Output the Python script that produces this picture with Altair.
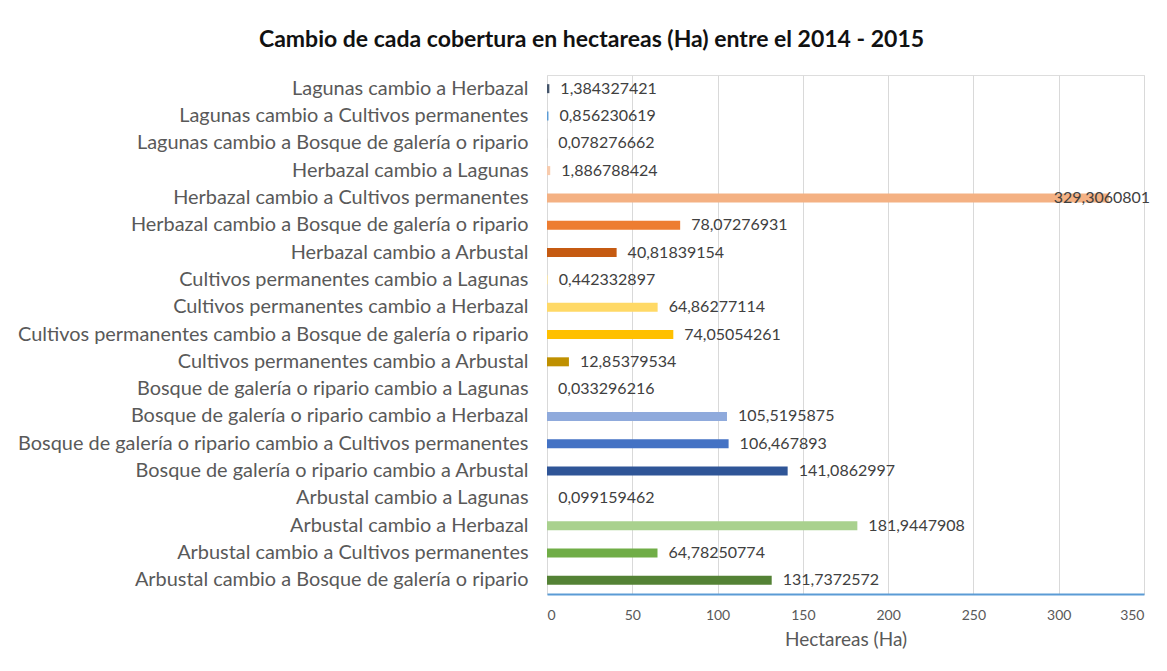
import altair as alt
import pandas as pd

categories = [
    "Lagunas cambio a Herbazal",
    "Lagunas cambio a Cultivos permanentes",
    "Lagunas cambio a Bosque de galería o ripario",
    "Herbazal cambio a Lagunas",
    "Herbazal cambio a Cultivos permanentes",
    "Herbazal cambio a Bosque de galería o ripario",
    "Herbazal cambio a Arbustal",
    "Cultivos permanentes cambio a Lagunas",
    "Cultivos permanentes cambio a Herbazal",
    "Cultivos permanentes cambio a Bosque de galería o ripario",
    "Cultivos permanentes cambio a Arbustal",
    "Bosque de galería o ripario cambio a Lagunas",
    "Bosque de galería o ripario cambio a Herbazal",
    "Bosque de galería o ripario cambio a Cultivos permanentes",
    "Bosque de galería o ripario cambio a Arbustal",
    "Arbustal cambio a Lagunas",
    "Arbustal cambio a Herbazal",
    "Arbustal cambio a Cultivos permanentes",
    "Arbustal cambio a Bosque de galería o ripario",
]
values = [
    1.384327421, 0.856230619, 0.078276662, 1.886788424, 329.3060801,
    78.07276931, 40.81839154, 0.442332897, 64.86277114, 74.05054261,
    12.85379534, 0.033296216, 105.5195875, 106.467893, 141.0862997,
    0.099159462, 181.9447908, 64.78250774, 131.7372572,
]
colors = [
    "#44546A", "#5B9BD5", "#A5A5A5", "#F8CBAD", "#F4B183",
    "#ED7D31", "#C55A11", "#FFE699", "#FFD966", "#FFC000",
    "#BF9000", "#B4C7E7", "#8FAADC", "#4472C4", "#2F5597",
    "#C5E0B4", "#A9D18E", "#70AD47", "#548235",
]

df = pd.DataFrame({
    "cat": categories,
    "val": values,
    "label": [str(v).replace(".", ",") for v in values],
})

FONT = "Lato"
GRAY = "#595959"

y_enc = alt.Y("cat:N", sort=None, title=None,
              scale=alt.Scale(paddingInner=0.0, paddingOuter=0.0),
              axis=alt.Axis(ticks=False, domain=False, grid=False,
                            labelFont=FONT, labelFontSize=19.9, labelColor=GRAY,
                            labelPadding=19, labelLimit=600))
x_enc = alt.X("val:Q", title="Hectareas (Ha)",
              scale=alt.Scale(domain=[0, 350], nice=False),
              axis=alt.Axis(values=[0, 50, 100, 150, 200, 250, 300, 350],
                            grid=True, gridColor="#D9D9D9", gridWidth=1,
                            ticks=False, domain=True, domainColor="#5B9BD5",
                            domainWidth=2, labelFont=FONT, labelFontSize=14,
                            labelColor=GRAY, labelPadding=14,
                            titleFont=FONT, titleFontSize=19,
                            titleFontWeight="normal", titleColor=GRAY,
                            titlePadding=8))

bars = alt.Chart(df).mark_bar(size=9).encode(
    y=y_enc,
    x=x_enc,
    color=alt.Color("cat:N", scale=alt.Scale(domain=categories, range=colors),
                    legend=None),
)

labels = alt.Chart(df).transform_filter("datum.val < 300").mark_text(
    align="left", baseline="middle", dx=11, font=FONT, fontSize=16,
    color="#404040").encode(y=alt.Y("cat:N", sort=None), x="val:Q", text="label:N")

labels_big = alt.Chart(df).transform_filter("datum.val >= 300").mark_text(
    align="left", baseline="middle", dx=-55, font=FONT, fontSize=16,
    color="#404040").encode(y=alt.Y("cat:N", sort=None), x="val:Q", text="label:N")

chart = alt.layer(bars, labels, labels_big).properties(
    width=597, height=519,
    title=alt.TitleParams("Cambio de cada cobertura en hectareas (Ha) entre el 2014 - 2015",
                          font=FONT, fontSize=23, fontWeight="bold", color="#111111",
                          anchor="middle", dx=-254, offset=23),
    autosize=alt.AutoSizeParams(type="none"),
    padding={"left": 539, "top": 67, "right": 15, "bottom": 69},
).configure_view(stroke=None).configure(background="white")

chart.save("out.html", embed_options={"renderer": "svg", "actions": False})
